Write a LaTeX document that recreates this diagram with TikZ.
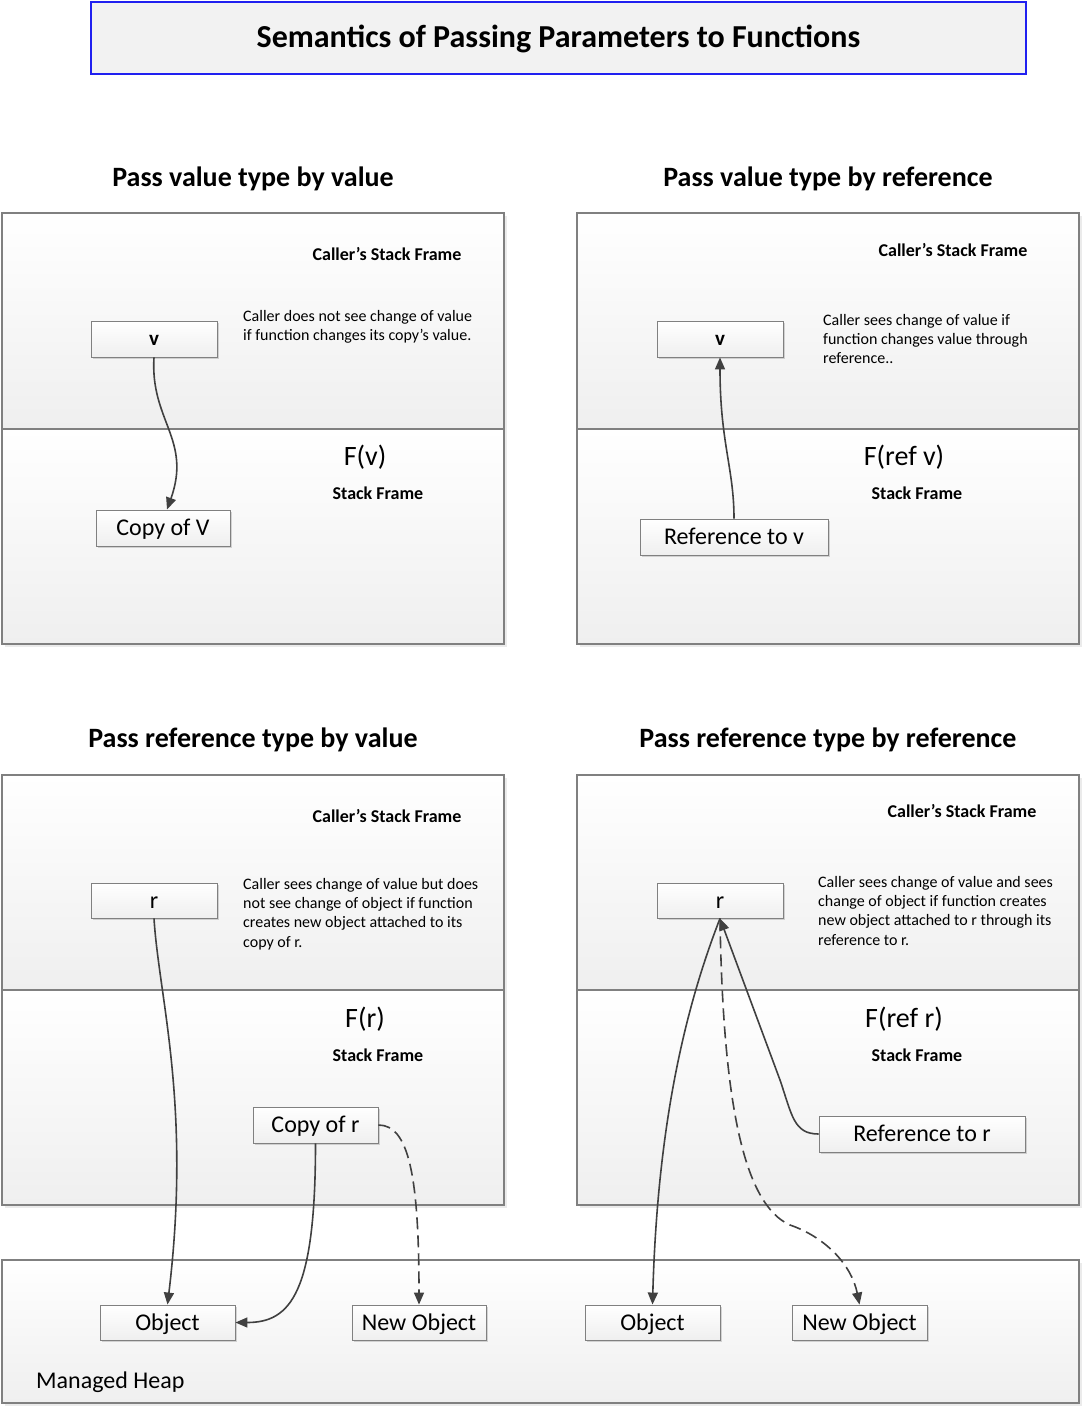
\documentclass[tikz,border=0pt]{standalone}
\usepackage{fontspec}
\setmainfont{Carlito}
\usetikzlibrary{arrows.meta,shadows}
\definecolor{wire}{HTML}{404040}
\definecolor{rim}{HTML}{808080}
\definecolor{paper}{HTML}{EFEFEF}
\definecolor{titlefill}{HTML}{F2F2F2}
\definecolor{titlerim}{HTML}{2020F0}
\newcommand{\pxfont}[2]{\fontsize{#1pt}{#2pt}\selectfont}

\begin{document}
\begin{tikzpicture}[x=1pt,y=-1pt,
  frame/.style={draw=rim,line width=1.2pt,top color=white,bottom color=paper,
    drop shadow={shadow xshift=3pt,shadow yshift=-3pt,fill=black,opacity=0.08}},
  slot/.style={draw=rim,line width=0.9pt,top color=white,bottom color=paper,inner sep=0pt,
    minimum height=36pt,font=\pxfont{24}{28},text height=17pt,text depth=2pt,
    drop shadow={shadow xshift=2pt,shadow yshift=-2pt,fill=black,opacity=0.15}},
  var/.style={slot,font=\bfseries\pxfont{21}{24},text height=13pt,text depth=1pt},
  heading/.style={font=\bfseries\pxfont{28}{32}},
  caller/.style={font=\bfseries\pxfont{18}{22}},
  fname/.style={font=\pxfont{28}{32}},
  note/.style={anchor=north west,align=left,inner sep=0pt,font=\pxfont{16}{19.3}},
  link/.style={draw=wire,line width=1.6pt,-{Triangle[length=12pt,width=10pt]}},
  hint/.style={link,dash pattern=on 12pt off 6pt}]
  \useasboundingbox (0,0) rectangle (1084,1408);

  \node[draw=titlerim,line width=1.8pt,fill=titlefill,minimum width=935pt,minimum height=72pt,
    text height=21pt,text depth=1.5pt,font=\bfseries\pxfont{32}{36}] (title) at (558.5,38)
    {Semantics of Passing Parameters to Functions};

  % stack frames
  \draw[frame] (2,213) rectangle (504,429);
  \draw[frame] (2,429) rectangle (504,644);
  \draw[frame] (577,213) rectangle (1079,429);
  \draw[frame] (577,429) rectangle (1079,644);
  \draw[frame] (2,775) rectangle (504,990);
  \draw[frame] (2,990) rectangle (504,1205);
  \draw[frame] (577,775) rectangle (1079,990);
  \draw[frame] (577,990) rectangle (1079,1205);
  \draw[frame] (2,1260) rectangle (1079,1403);

  \node[heading] (h1) at (253,179) {Pass value type by value};
  \node[heading] (h2) at (828,179) {Pass value type by reference};
  \node[heading] (h3) at (253,740) {Pass reference type by value};
  \node[heading] (h4) at (828,740) {Pass reference type by reference};

  \node[caller] (c1) at (387,254) {Caller’s Stack Frame};
  \node[caller] (c2) at (953,250) {Caller’s Stack Frame};
  \node[caller] (c3) at (387,816) {Caller’s Stack Frame};
  \node[caller] (c4) at (962,811) {Caller’s Stack Frame};

  \node[note] (n1) at (243,310) {Caller does not see change of value\\if function changes its copy’s value.};
  \node[note] (n2) at (823,314) {Caller sees change of value if\\function changes value through\\reference..};
  \node[note] (n3) at (243,878) {Caller sees change of value but does\\not see change of object if function\\creates new object attached to its\\copy of r.};
  \node[note] (n4) at (818,876) {Caller sees change of value and sees\\change of object if function creates\\new object attached to r through its\\reference to r.};

  \node[fname] (f1) at (365,457) {F(v)};
  \node[caller] (s1) at (378,493) {Stack Frame};
  \node[fname] (f2) at (904,457) {F(ref v)};
  \node[caller] (s2) at (917,493) {Stack Frame};
  \node[fname] (f3) at (365,1019) {F(r)};
  \node[caller] (s3) at (378,1055) {Stack Frame};
  \node[fname] (f4) at (904,1019) {F(ref r)};
  \node[caller] (s4) at (917,1055) {Stack Frame};

  \node[anchor=west,inner sep=0pt,font=\pxfont{24}{28}] (heap) at (36,1382) {Managed Heap};

  % slots
  \node[var,minimum width=126pt] (va) at (154,339) {v};
  \node[slot,minimum width=134pt] (copyv) at (163,528) {Copy of V};
  \node[var,minimum width=126pt] (vb) at (720,339) {v};
  \node[slot,minimum width=188pt] (refv) at (734,537) {Reference to v};
  \node[slot,minimum width=126pt,minimum height=35pt] (ra) at (154,900.5) {r};
  \node[slot,minimum width=125pt] (copyr) at (315.5,1125) {Copy of r};
  \node[slot,minimum width=135pt,minimum height=35pt] (obja) at (167.5,1322.5) {Object};
  \node[slot,minimum width=134pt,minimum height=35pt] (newa) at (419,1322.5) {New Object};
  \node[slot,minimum width=126pt,minimum height=35pt] (rb) at (720,900.5) {r};
  \node[slot,minimum width=206pt] (refr) at (922,1134) {Reference to r};
  \node[slot,minimum width=135pt,minimum height=35pt] (objb) at (652.5,1322.5) {Object};
  \node[slot,minimum width=135pt,minimum height=35pt] (newb) at (859.5,1322.5) {New Object};

  % connectors
  \draw[link] (va.south) .. controls +(-4,63) and +(25,-70) .. ([xshift=4pt]copyv.north);
  \draw[link] (refv.north) .. controls +(0,-50) and +(0,85) .. (vb.south);
  \draw[link] (ra.south) .. controls +(5,80) and +(24,-200) .. (obja.north);
  \draw[link] (copyr.south) .. controls +(0,150) and +(55,0) .. (obja.east);
  \draw[hint] (copyr.east) .. controls +(30,0) and +(0,-130) .. (newa.north);
  \draw[link] (rb.south) .. controls +(-35,90) and +(5,-180) .. (objb.north);
  \draw[link] (refr.west) .. controls +(-25,0) and +(12,35) .. (780,1080) -- (rb.south);
  \draw[hint] (rb.south) .. controls +(3,190) and +(-45,-20) .. (790,1225)
    .. controls +(35,12) and +(-8,-40) .. (newb.north);
\end{tikzpicture}
\end{document}
